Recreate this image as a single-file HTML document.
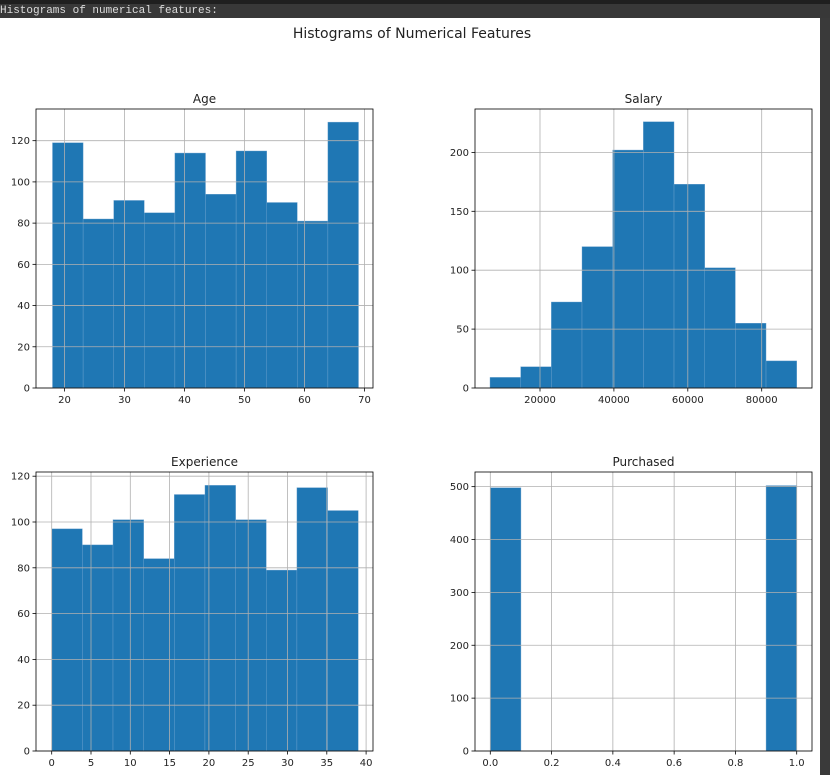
<!DOCTYPE html>
<html><head><meta charset="utf-8"><style>
body{margin:0;width:830px;height:775px;overflow:hidden;background:#3a3a3a;font-family:"DejaVu Sans","Liberation Sans",sans-serif}
#top{position:absolute;left:0;top:0;width:830px;height:4px;background:#1f1f1f}
#hdr{position:absolute;left:0;top:4px;width:830px;height:14px;background:#383838;color:#ddd;font:11px "Liberation Mono",monospace;line-height:14px}
#fig{position:absolute;left:0;top:18px}
</style></head><body>
<div id="top"></div>
<div id="hdr">Histograms of numerical features:</div>
<svg id="fig" width="820" height="757" viewBox="0 18 820 757">
<rect x="0" y="18" width="820" height="757" fill="#fff"/>
<text x="412" y="38" text-anchor="middle" font-size="14" fill="#222">Histograms of Numerical Features</text>
</svg>
<script>
const ageEdgesStart=18, ageEdgesEnd=69;
const ageCounts=[119,82,91,85,114,94,115,90,81,129];
const ageXTicks=[20,30,40,50,60,70];
const ageYTicks=[0,20,40,60,80,100,120];
const salEdgesStart=6470, salEdgesEnd=89470;
const salCounts=[9,18,73,120,202,226,173,102,55,23];
const salXTicks=[20000,40000,60000,80000];
const salYTicks=[0,50,100,150,200];
const expEdgesStart=0, expEdgesEnd=39;
const expCounts=[97,90,101,84,112,116,101,79,115,105];
const expXTicks=[0,5,10,15,20,25,30,35,40];
const expYTicks=[0,20,40,60,80,100,120];
const purEdgesStart=0, purEdgesEnd=1;
const purCounts=[498,0,0,0,0,0,0,0,0,502];
const purXTicks=[0,0.2,0.4,0.6,0.8,1.0];
const purYTicks=[0,100,200,300,400,500];

const NS='http://www.w3.org/2000/svg';
const fig=document.getElementById('fig');
function mk(tag,attrs,parent){const e=document.createElementNS(NS,tag);for(const k in attrs)e.setAttribute(k,attrs[k]);parent.appendChild(e);return e;}
function hist(o){
  const g=mk('g',{},fig);
  
  
  const L=o.L,R=o.R,T=o.T,B=o.B;
  const xs=v=>o.x0px+(v-o.x0)*o.xs;
  const ys=v=>B-(v-0)*o.ys;
  const n=o.counts.length,w=(o.e1-o.e0)/n;
  o.counts.forEach((c,i)=>{
    if(c<=0)return;
    const x1=xs(o.e0+i*w),x2=xs(o.e0+(i+1)*w);
    const r=mk('rect',{x:x1,y:ys(c),width:x2-x1,height:B-ys(c),fill:'#1f77b4',stroke:'#6ea3cf','stroke-width':0.4},g);
    
    
  });
  o.xt.forEach(t=>{
    const x=xs(t);
    mk('line',{x1:x,x2:x,y1:T,y2:B,stroke:'#b0b0b0','stroke-width':0.8},g);
    mk('line',{x1:x,x2:x,y1:B,y2:B+3.5,stroke:'#000','stroke-width':0.8},g);
    const tx=mk('text',{x:x,y:B+15,'text-anchor':'middle','font-size':10,fill:'#222'},g);
    tx.textContent=o.fmtX?o.fmtX(t):t;
    
    
  });
  o.yt.forEach(t=>{
    const y=ys(t);
    mk('line',{x1:L,x2:R,y1:y,y2:y,stroke:'#b0b0b0','stroke-width':0.8},g);
    mk('line',{x1:L-3.5,x2:L,y1:y,y2:y,stroke:'#000','stroke-width':0.8},g);
    const tx=mk('text',{x:L-6,y:y+3.5,'text-anchor':'end','font-size':10,fill:'#222'},g);
    tx.textContent=t;
    
    
  });
  mk('rect',{x:L,y:T,width:R-L,height:B-T,fill:'none',stroke:'#000','stroke-width':0.8},g);
  const ti=mk('text',{x:(L+R)/2,y:T-6,'text-anchor':'middle','font-size':12,fill:'#222'},g);
  ti.textContent=o.title;
  
  
}
hist({name:'age',title:'Age',L:36,R:373,T:109,B:388,x0:20,x0px:64.5,xs:6.0,ys:2.061,e0:ageEdgesStart,e1:ageEdgesEnd,counts:ageCounts,xt:ageXTicks,yt:ageYTicks});
hist({name:'salary',title:'Salary',L:475,R:812,T:109,B:388,x0:20000,x0px:540,xs:0.003695,ys:1.178,e0:salEdgesStart,e1:salEdgesEnd,counts:salCounts,xt:salXTicks,yt:salYTicks});
hist({name:'experience',title:'Experience',L:36,R:373,T:472,B:751,x0:0,x0px:51.7,xs:7.86,ys:2.29,e0:expEdgesStart,e1:expEdgesEnd,counts:expCounts,xt:expXTicks,yt:expYTicks});
hist({name:'purchased',title:'Purchased',L:475,R:812,T:472,B:751,x0:0,x0px:490.3,xs:306.4,ys:0.5287,e0:purEdgesStart,e1:purEdgesEnd,counts:purCounts,xt:purXTicks,yt:purYTicks,fmtX:t=>t.toFixed(1)});
</script>
</body></html>
